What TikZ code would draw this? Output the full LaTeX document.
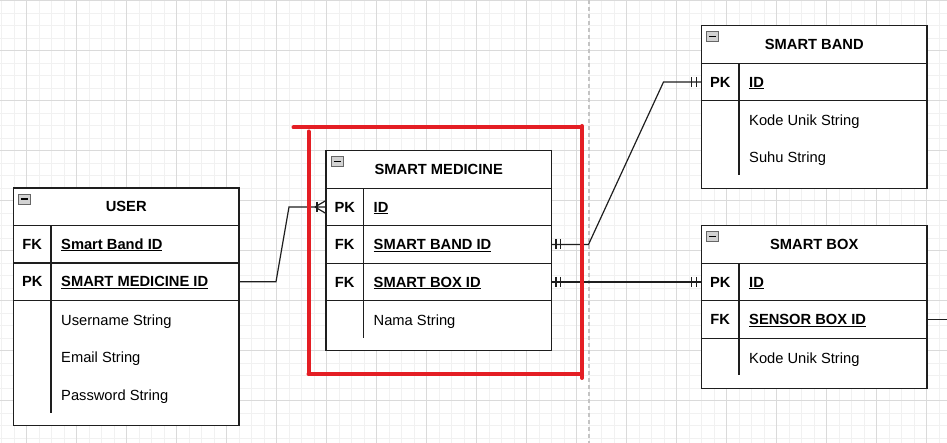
\documentclass[tikz,border=0pt]{standalone}
\usepackage{fontspec}
\setmainfont{Liberation Sans}
\usepackage{tikz}
\usetikzlibrary{
  positioning,
  calc
}
\usepackage{xcolor}
\definecolor{gridmajor}{RGB}{218, 218, 218}
\definecolor{gridminor}{RGB}{241, 241, 241}
\definecolor{pagebreak}{RGB}{196, 196, 196}
\definecolor{markred}  {RGB}{228,  30,  36}
\definecolor{tblline}  {RGB}{ 30,  30,  30}
\newcommand{\keyul}[1]{\setbox0=\hbox{\bfseries #1}\rlap{\copy0}\rule[-2pt]{\wd0}{1.2pt}}
\tikzset{
  tblhead/.style={
    draw=tblline, fill=white, line width=1.2pt,
    minimum width=225.5pt, minimum height=37.5pt,
    inner sep=0pt, outer sep=0pt, anchor=north west,
    font=\fontsize{14.7}{17}\selectfont\bfseries,
    text height=10.5pt, text depth=0pt
  },
  tblrow/.style={tblhead, anchor=north},
  tblattr/.style={tblhead, anchor=north, minimum height=#1},
  keytext/.style={
    font=\fontsize{14.7}{17}\selectfont\bfseries,
    text height=10.5pt, text depth=0pt, inner sep=0pt
  },
  fieldtext/.style={
    font=\fontsize{14.7}{17}\selectfont,
    text height=10.5pt, text depth=0pt, inner sep=0pt, anchor=west
  },
  minbtn/.style={
    draw=gray!80!black, fill=gray!35, line width=0.8pt,
    minimum width=12pt, minimum height=10pt, inner sep=0pt,
    path picture={\draw[black, line width=1.3pt]
      ([xshift=2.5pt]path picture bounding box.west) --
      ([xshift=-2.5pt]path picture bounding box.east);}
  },
  erline/.style={line width=1.2pt, tblline},
  erbar/.pic={\draw[erline] (0,-5) -- (0,5);},
  crowfoot/.pic={\draw[erline] (-11,0) -- (0,-6.5) (-11,0) -- (0,6.5);},
}

\begin{document}
\begin{tikzpicture}[x=1pt, y=-1pt]

% ── Canvas + grid ─────────────────────────────────────────────────────────────
\fill[white] (0,0) rectangle (947,443);
\useasboundingbox (0,0) rectangle (947,443);
\foreach \gx in {1.7,14.2,...,946}
  \draw[gridminor, line width=1pt] (\gx,0) -- (\gx,443);
\foreach \gy in {0.7,13.2,...,443}
  \draw[gridminor, line width=1pt] (0,\gy) -- (947,\gy);
\foreach \gx in {26.7,76.7,...,946}
  \draw[gridmajor, line width=1pt] (\gx,0) -- (\gx,443);
\foreach \gy in {0.7,50.7,...,443}
  \draw[gridmajor, line width=1pt] (0,\gy) -- (947,\gy);
\draw[pagebreak, line width=1.3pt, dash pattern=on 4pt off 3pt] (589,0) -- (589,443);

% ── USER ──────────────────────────────────────────────────────────────────────
\node[tblhead] (userhead) at (13.5,188) {USER};
\node[tblrow, below=0pt of userhead] (userfk) {};
\node[tblrow, below=0pt of userfk] (userpk) {};
\node[tblattr=125pt, below=0pt of userpk] (userattr) {};
\node[minbtn] (userbtn) at ([xshift=11pt, yshift=-11pt]userhead.north west) {};
\draw[erline] ([xshift=37.5pt]userhead.south west) -- ([xshift=37.5pt, yshift=13pt]userattr.south west);
\node[keytext] (userfkkey) at ([xshift=18.75pt]userfk.west) {FK};
\node[fieldtext] (userfkname) at ([xshift=47.5pt]userfk.west) {\keyul{Smart Band ID}};
\node[keytext] (userpkkey) at ([xshift=18.75pt]userpk.west) {PK};
\node[fieldtext] (userpkname) at ([xshift=47.5pt]userpk.west) {\keyul{SMART MEDICINE ID}};
\node[fieldtext] (useruname) at ([xshift=47.5pt, yshift=-19.5pt]userattr.north west) {Username String};
\node[fieldtext, below=37.5pt of useruname.west, anchor=west] (useremail) {Email String};
\node[fieldtext, below=37.5pt of useremail.west, anchor=west] (userpass) {Password String};

% ── SMART MEDICINE ────────────────────────────────────────────────────────────
\node[tblhead, above right=37.25pt and 87pt of userhead.north east, anchor=north west] (medhead) {SMART MEDICINE};
\node[tblrow, below=0pt of medhead] (medpk) {};
\node[tblrow, below=0pt of medpk] (medband) {};
\node[tblrow, below=0pt of medband] (medbox) {};
\node[tblattr=50pt, below=0pt of medbox] (medattr) {};
\node[minbtn] (medbtn) at ([xshift=11pt, yshift=-11pt]medhead.north west) {};
\draw[erline] ([xshift=37.5pt]medhead.south west) -- ([xshift=37.5pt, yshift=13pt]medattr.south west);
\node[keytext] (medpkkey) at ([xshift=18.75pt]medpk.west) {PK};
\node[fieldtext] (medpkname) at ([xshift=47.5pt]medpk.west) {\keyul{ID}};
\node[keytext] (medbandkey) at ([xshift=18.75pt]medband.west) {FK};
\node[fieldtext] (medbandname) at ([xshift=47.5pt]medband.west) {\keyul{SMART BAND ID}};
\node[keytext] (medboxkey) at ([xshift=18.75pt]medbox.west) {FK};
\node[fieldtext] (medboxname) at ([xshift=47.5pt]medbox.west) {\keyul{SMART BOX ID}};
\node[fieldtext] (mednama) at ([xshift=47.5pt, yshift=-19.5pt]medattr.north west) {Nama String};

% ── SMART BAND ────────────────────────────────────────────────────────────────
\node[tblhead, above right=125pt and 150pt of medhead.north east, anchor=north west] (bandhead) {SMART BAND};
\node[tblrow, below=0pt of bandhead] (bandpk) {};
\node[tblattr=87.5pt, below=0pt of bandpk] (bandattr) {};
\node[minbtn] (bandbtn) at ([xshift=11pt, yshift=-11pt]bandhead.north west) {};
\draw[erline] ([xshift=37.5pt]bandhead.south west) -- ([xshift=37.5pt, yshift=13pt]bandattr.south west);
\node[keytext] (bandpkkey) at ([xshift=18.75pt]bandpk.west) {PK};
\node[fieldtext] (bandpkname) at ([xshift=47.5pt]bandpk.west) {\keyul{ID}};
\node[fieldtext] (bandkode) at ([xshift=47.5pt, yshift=-19.5pt]bandattr.north west) {Kode Unik String};
\node[fieldtext, below=37.5pt of bandkode.west, anchor=west] (bandsuhu) {Suhu String};

% ── SMART BOX ─────────────────────────────────────────────────────────────────
\node[tblhead, below=37.5pt of bandattr, anchor=north] (boxhead) {SMART BOX};
\node[tblrow, below=0pt of boxhead] (boxpk) {};
\node[tblrow, below=0pt of boxpk] (boxfk) {};
\node[tblattr=50pt, below=0pt of boxfk] (boxattr) {};
\node[minbtn] (boxbtn) at ([xshift=11pt, yshift=-11pt]boxhead.north west) {};
\draw[erline] ([xshift=37.5pt]boxhead.south west) -- ([xshift=37.5pt, yshift=13pt]boxattr.south west);
\node[keytext] (boxpkkey) at ([xshift=18.75pt]boxpk.west) {PK};
\node[fieldtext] (boxpkname) at ([xshift=47.5pt]boxpk.west) {\keyul{ID}};
\node[keytext] (boxfkkey) at ([xshift=18.75pt]boxfk.west) {FK};
\node[fieldtext] (boxfkname) at ([xshift=47.5pt]boxfk.west) {\keyul{SENSOR BOX ID}};
\node[fieldtext] (boxkode) at ([xshift=47.5pt, yshift=-19.5pt]boxattr.north west) {Kode Unik String};

% ── Relations ─────────────────────────────────────────────────────────────────
\draw[erline] (userpk.east) -- ++(37pt,0) -- ([xshift=-37pt]medpk.west) -- (medpk.west);
\pic at ([xshift=-9pt]medpk.west) {erbar};
\pic at (medpk.west) {crowfoot};

\draw[erline] (medband.east) -- ++(37pt,0) -- ([xshift=-38pt]bandpk.west) -- (bandpk.west);
\pic at ([xshift=4.5pt]medband.east) {erbar};
\pic at ([xshift=9pt]medband.east) {erbar};
\pic at ([xshift=-5pt]bandpk.west) {erbar};
\pic at ([xshift=-10pt]bandpk.west) {erbar};

\draw[erline] (medbox.east) -- (boxpk.west);
\pic at ([xshift=4.5pt]medbox.east) {erbar};
\pic at ([xshift=9pt]medbox.east) {erbar};
\pic at ([xshift=-5pt]boxpk.west) {erbar};
\pic at ([xshift=-10pt]boxpk.west) {erbar};

\coordinate[right=21pt of boxfk.east] (boxout);
\draw[erline] (boxfk.east) -- (boxout);

% ── Red highlight ─────────────────────────────────────────────────────────────
\draw[markred, line width=4pt, line cap=round]
  (293.5,127.5) -- (582,127.5)
  (308.5,131.5) -- (308.5,374)
  (308.5,374) -- (582,374)
  (582,126) -- (582,378);

\end{tikzpicture}
\end{document}
